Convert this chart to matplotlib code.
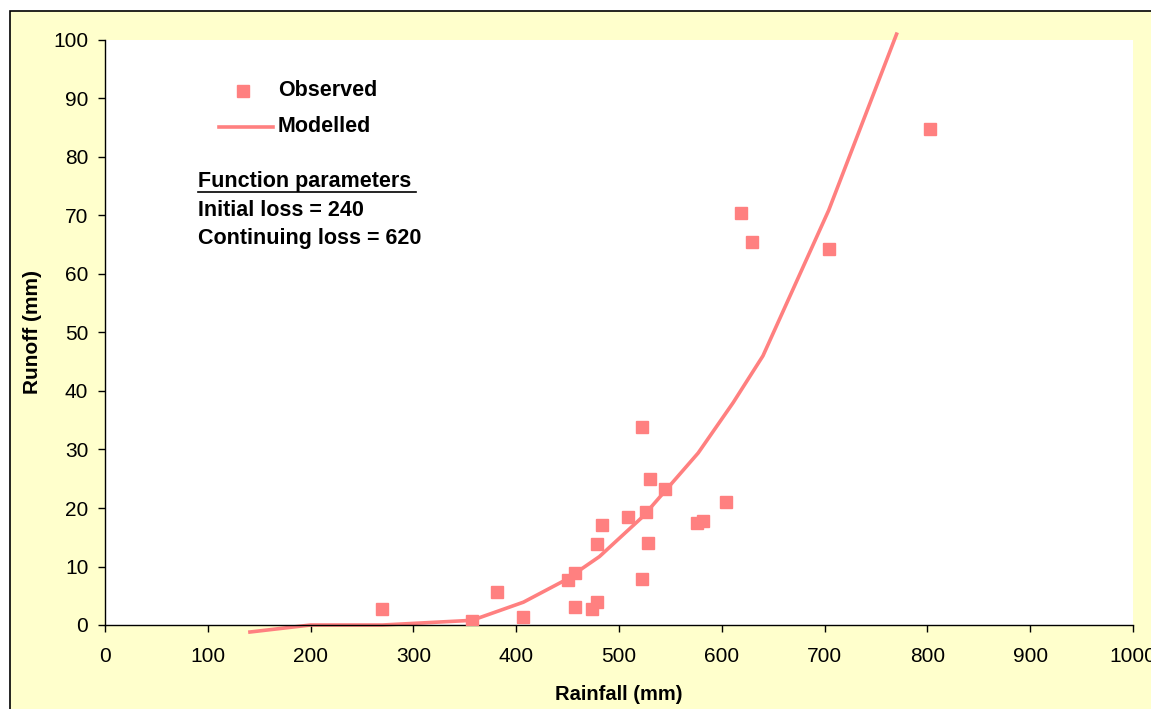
import numpy as np
import matplotlib.pyplot as plt
from matplotlib.patches import Rectangle
from matplotlib.lines import Line2D

plt.rcParams['font.family'] = ['Liberation Sans', 'DejaVu Sans']

# observed rainfall / runoff (mm)
obs_rain = [269, 357, 381, 407, 450, 457, 457, 474, 479, 479, 483, 509, 522, 522,
            526, 528, 530, 545, 576, 582, 604, 619, 629, 704, 803]
obs_runoff = [2.7, 0.7, 5.6, 1.4, 7.7, 8.9, 3.0, 2.7, 4.0, 13.8, 17.1, 18.4, 7.9, 33.8,
              19.4, 14.1, 24.9, 23.3, 17.5, 17.8, 21.1, 70.4, 65.5, 64.3, 84.8]

# modelled curve
mod_rain = [141, 200, 270, 357, 407, 448, 481, 523, 577, 611, 640, 704, 770]
mod_runoff = [-1.2, 0.0, 0.0, 0.8, 3.9, 7.7, 11.7, 18.5, 29.4, 38.0, 46.0, 70.9, 101]

col = '#FF8080'
W, H = 1151, 709
fig = plt.figure(figsize=(W / 100, H / 100), dpi=100, facecolor='white')
bg = Rectangle((10 / W, -0.1), 1.2, 1.1 - 11 / H, transform=fig.transFigure,
               facecolor='#FFFFCC', edgecolor='black', lw=1.2, zorder=-5)
fig.patches.append(bg)

ax = fig.add_axes([105 / W, (H - 625) / H, (1133 - 105) / W, (625 - 40) / H])
ax.set_facecolor('white')
ax.plot(mod_rain, mod_runoff, color=col, lw=2.6, clip_on=False, zorder=2)
ax.plot(obs_rain, obs_runoff, 's', color=col, ms=8.5, mec=col, ls='none', zorder=3)

ax.set_xlim(0, 1000)
ax.set_ylim(0, 100)
ax.set_xticks(np.arange(0, 1001, 100))
ax.set_yticks(np.arange(0, 101, 10))
for s in ['top', 'right']:
    ax.spines[s].set_visible(False)
for s in ['left', 'bottom']:
    ax.spines[s].set_linewidth(1.0)
ax.tick_params(direction='out', length=5, width=1, labelsize=15)
ax.tick_params(axis='x', pad=11)
ax.tick_params(axis='y', pad=7)
ax.set_xlabel('Rainfall (mm)', fontsize=14.5, fontweight='bold')
ax.set_ylabel('Runoff (mm)', fontsize=15, fontweight='bold')
ax.xaxis.set_label_coords(0.5, (625 - 695) / 585)
ax.xaxis.label.set_va('center')
ax.yaxis.set_label_coords((32 - 105) / 1028, 0.5)
ax.yaxis.label.set_va('center')

# legend / notes
def fx(x):
    return x / W

def fy(y):
    return 1 - y / H

fig.add_artist(Line2D([fx(243)], [fy(91)], marker='s', color=col, ms=8.5, ls='none'))
fig.text(fx(278), fy(91), 'Observed', fontsize=15.5, fontweight='bold', va='center')
fig.add_artist(Line2D([fx(219), fx(273)], [fy(127), fy(127)], color=col, lw=2.6))
fig.text(fx(278), fy(127), 'Modelled', fontsize=15.5, fontweight='bold', va='center')
fig.text(fx(198), fy(182), 'Function parameters', fontsize=15.5, fontweight='bold', va='center')
fig.add_artist(Line2D([fx(198), fx(416)], [fy(192), fy(192)], color='black', lw=1.2))
fig.text(fx(198), fy(211), 'Initial loss = 240', fontsize=15.5, fontweight='bold', va='center')
fig.text(fx(198), fy(239), 'Continuing loss = 620', fontsize=15.5, fontweight='bold', va='center')

fig.savefig('out.png', dpi=100)
